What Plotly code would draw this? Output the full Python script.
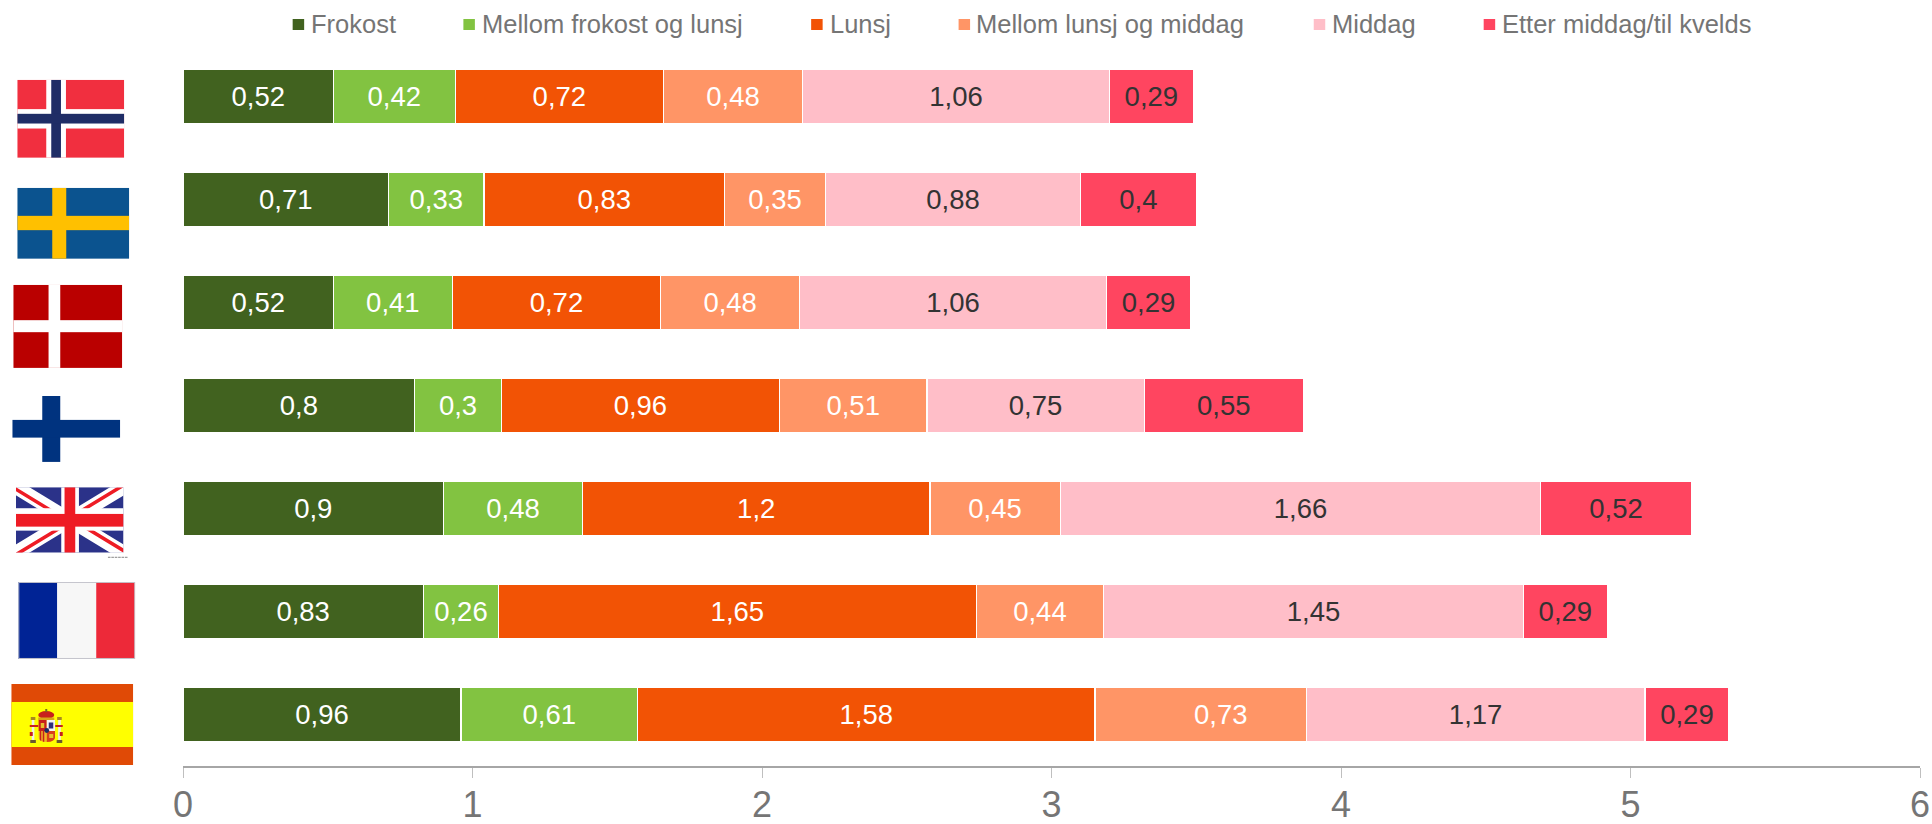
import base64
import plotly.graph_objects as go

# Meal occasions (legend order) and their colours
meals = ["Frokost", "Mellom frokost og lunsj", "Lunsj",
         "Mellom lunsj og middag", "Middag", "Etter middag/til kvelds"]
meal_colors = ["#41621F", "#82C341", "#F25305", "#FF9566", "#FFBEC8", "#FF4560"]
label_colors = ["#FFFFFF", "#FFFFFF", "#FFFFFF", "#FFFFFF", "#333333", "#333333"]

countries = ["Norge", "Sverige", "Danmark", "Finland",
             "Storbritannia", "Frankrike", "Spania"]

frokost = [0.52, 0.71, 0.52, 0.8, 0.9, 0.83, 0.96]
mellom_frokost_lunsj = [0.42, 0.33, 0.41, 0.3, 0.48, 0.26, 0.61]
lunsj = [0.72, 0.83, 0.72, 0.96, 1.2, 1.65, 1.58]
mellom_lunsj_middag = [0.48, 0.35, 0.48, 0.51, 0.45, 0.44, 0.73]
middag = [1.06, 0.88, 1.06, 0.75, 1.66, 1.45, 1.17]
etter_middag = [0.29, 0.4, 0.29, 0.55, 0.52, 0.29, 0.29]
series = [frokost, mellom_frokost_lunsj, lunsj,
          mellom_lunsj_middag, middag, etter_middag]

tick_values = [0, 1, 2, 3, 4, 5, 6]

FONT = "Liberation Sans"
W, H = 1932, 824
LEFT, RIGHT, TOP, BOTTOM = 182.8, 1920.5, 45.2, 766


def px(x):
    """Horizontal page pixel to paper fraction."""
    return (x - LEFT) / (RIGHT - LEFT)


def py(y):
    """Vertical page pixel to paper fraction."""
    return (BOTTOM - y) / (BOTTOM - TOP)


def flag_uri(w, h, body):
    svg = (f'<svg xmlns="http://www.w3.org/2000/svg" width="{w}" height="{h}" '
           f'viewBox="0 0 {w} {h}" preserveAspectRatio="none">{body}</svg>')
    return "data:image/svg+xml;base64," + base64.b64encode(svg.encode()).decode()


def rect(x, y, w, h, fill):
    return f'<rect x="{x}" y="{y}" width="{w}" height="{h}" fill="{fill}"/>'


def nordic_cross(w, h, bg, items):
    return flag_uri(w, h, rect(0, 0, w, h, bg) + "".join(rect(*i) for i in items))


def union_jack(w, h):
    cx, cy = 53.8, 32.7
    fw, fh = cx * 2, cy * 2
    diag = f"M0,0 L{fw},{fh} M{fw},0 L0,{fh}"
    clip = (f"M{cx},{cy} h{cx} v{cy} z v{cy} h-{cx} z "
            f"h-{cx} v-{cy} z v-{cy} h{cx} z")
    body = (
        f'<clipPath id="t"><path d="{clip}"/></clipPath>'
        f'<clipPath id="f"><rect width="{fw}" height="{fh}"/></clipPath>'
        f'<g clip-path="url(#f)">'
        + rect(0, 0, fw, fh, "#2B3289")
        + f'<path d="{diag}" stroke="#FFFFFF" stroke-width="14"/>'
        + f'<path d="{diag}" clip-path="url(#t)" stroke="#EE1C25" stroke-width="7"/>'
        + rect(45.3, 0, 17.7, fh, "#FFFFFF") + rect(0, 21, fw, 22.4, "#FFFFFF")
        + rect(48.6, 0, 10.7, fh, "#EE1C25") + rect(0, 26.7, fw, 12.7, "#EE1C25")
        + "</g>"
        + "".join(rect(92 + i * 3.4, 69.5, 2.6, 1.2, "#9A9A9A") for i in range(6))
    )
    return flag_uri(w, h, body)


def spanish_flag(w, h):
    shield = "M27,36 H44 V52 Q44,58 35.5,58 Q27,58 27,52 Z"
    crest = (
        # crown
        f'<ellipse cx="35" cy="31" rx="8" ry="4" fill="#C8201C"/>'
        + rect(27, 33.5, 16, 2.5, "#D8A418")
        + rect(34, 25, 2, 3, "#7A6A20")
        # pillars
        + rect(20.5, 36, 2.6, 20, "#EFEFE6") + rect(46.9, 36, 2.6, 20, "#EFEFE6")
        + rect(19.5, 33, 4.6, 3, "#A88A20") + rect(45.9, 33, 4.6, 3, "#A88A20")
        + rect(19, 56, 5.6, 3, "#6A5A30") + rect(45.4, 56, 5.6, 3, "#6A5A30")
        # sashes
        + rect(18.5, 41, 8.5, 2, "#C8201C") + rect(44, 41, 7.5, 2, "#C8201C")
        + rect(18.5, 48, 3, 4, "#C8201C") + rect(48.5, 48, 3, 4, "#C8201C")
        # quartered shield
        + f'<clipPath id="s"><path d="{shield}"/></clipPath><g clip-path="url(#s)">'
        + rect(27, 36, 8.5, 11, "#C8201C") + rect(35.5, 36, 8.5, 11, "#F4F4F4")
        + rect(27, 47, 8.5, 11, "#F0B428") + rect(35.5, 47, 8.5, 11, "#D8401C")
        + rect(29.5, 39, 3.5, 5, "#E8C030") + rect(37.5, 38.5, 4.5, 6, "#30307A")
        + rect(28.5, 47, 1.5, 11, "#C8201C") + rect(31.5, 47, 1.5, 11, "#C8201C")
        + rect(38, 50, 4, 4, "#E8C030")
        + "</g>"
        + f'<circle cx="35.5" cy="46.5" r="2.4" fill="#1F2D66"/>'
    )
    body = (rect(0, 0, w, h, "#E04A06") + rect(0, 18, w, 45, "#FFFF00") + crest)
    return flag_uri(w, h, body)


# Flags in row order, each with its page-pixel box (x, y, w, h)
flags = [
    (nordic_cross(107, 78, "#F12F3F", [
        (29, 0, 19.7, 78, "#FFFFFF"), (0, 29.3, 107, 19.4, "#FFFFFF"),
        (34, 0, 9.7, 78, "#1F2D66"), (0, 34, 107, 9.7, "#1F2D66")]),
     17, 80, 107, 78),
    (nordic_cross(112, 71, "#0B538F", [
        (35, 0, 14, 71, "#FFC000"), (0, 28, 112, 14.3, "#FFC000")]),
     17, 188, 112, 71),
    (nordic_cross(109, 83, "#BA0000", [
        (35.3, 0, 11.7, 83, "#FFFFFF"), (0, 35.3, 109, 12, "#FFFFFF")]),
     13, 285, 109, 83),
    (nordic_cross(108, 66, "#FFFFFF", [
        (30, 0, 18, 66, "#00337F"), (0, 24, 108, 17.7, "#00337F")]),
     12, 396, 108, 66),
    (union_jack(113, 72), 15.7, 487.3, 113, 72),
    (flag_uri(117, 77, rect(0, 0, 39, 77, "#002395") + rect(39, 0, 39, 77, "#F7F7F7")
              + rect(78, 0, 39, 77, "#ED2939")
              + '<rect x="0.5" y="0.5" width="116" height="76" fill="none" '
                'stroke="#C4C4CC" stroke-width="1"/>'),
     18, 582, 117, 77),
    (spanish_flag(122, 81), 11, 684, 122, 81),
]

fig = go.Figure()

for i, (meal, values) in enumerate(zip(meals, series)):
    labels = [str(v).replace(".", ",") for v in values]
    if meal == "Mellom lunsj og middag":
        labels[-1] = ""  # Spain's value is set beside the centre, added below
    fig.add_trace(go.Bar(
        name=meal, y=countries, x=values, orientation="h",
        marker=dict(color=meal_colors[i], line=dict(color="#FFFFFF", width=1.2)),
        text=labels, textposition="inside", insidetextanchor="middle",
        textangle=0, constraintext="none",
        textfont=dict(family=FONT, size=27.5, color=label_colors[i]),
        showlegend=False, hoverinfo="x+y+name",
    ))

annotations = []

# Spain's "Mellom lunsj og middag" label sits right of its segment's centre
spain = len(countries) - 1
spain_start = sum(s[spain] for s in series[:3])
annotations.append(dict(
    x=spain_start + mellom_lunsj_middag[spain] / 2, y=countries[spain],
    xref="x", yref="y", xshift=20, showarrow=False,
    text=str(mellom_lunsj_middag[spain]).replace(".", ","),
    font=dict(family=FONT, size=27.5, color="#FFFFFF"),
))

# Legend row across the top
legend_swatch_x = [292.5, 463.3, 811.2, 958.7, 1314, 1484]
legend_text_x = [308.5, 479.5, 828.2, 974.5, 1330.5, 1500.2]
shapes = []
for i, meal in enumerate(meals):
    shapes.append(dict(
        type="rect", xref="paper", yref="paper",
        x0=px(legend_swatch_x[i]), x1=px(legend_swatch_x[i] + 11.5),
        y0=py(30.2), y1=py(19.2),
        fillcolor=meal_colors[i], line=dict(width=0),
    ))
    annotations.append(dict(
        x=px(legend_text_x[i]), y=py(24), xref="paper", yref="paper",
        xanchor="left", yanchor="middle", showarrow=False, text=meal,
        font=dict(family=FONT, size=25.5, color="#757575"),
    ))

images = [dict(source=src, xref="paper", yref="paper", x=px(x), y=py(y),
               sizex=w / (RIGHT - LEFT), sizey=h / (BOTTOM - TOP),
               xanchor="left", yanchor="top", sizing="stretch", layer="above")
          for src, x, y, w, h in flags]

fig.update_layout(
    barmode="stack", bargap=0.47,
    width=W, height=H, autosize=False,
    margin=dict(l=LEFT, r=W - RIGHT, t=TOP, b=H - BOTTOM, pad=0, autoexpand=False),
    plot_bgcolor="#FFFFFF", paper_bgcolor="#FFFFFF",
    separators=", ", showlegend=False,
    font=dict(family=FONT),
    xaxis=dict(
        range=[0, 6], tickmode="array", tickvals=tick_values,
        automargin=False,
        showgrid=False, zeroline=False, showline=True,
        linecolor="#A6A6A6", linewidth=2,
        ticks="outside", ticklen=10, tickwidth=1, tickcolor="#BFBFBF",
        tickfont=dict(family=FONT, size=36, color="#757575"),
        ticklabelstandoff=-4,
    ),
    yaxis=dict(
        categoryorder="array", categoryarray=countries,
        autorange="reversed", showticklabels=False, ticks="", automargin=False,
        showgrid=False, zeroline=False, showline=False,
    ),
    annotations=annotations, shapes=shapes, images=images,
)

fig.write_html("out.html", config=dict(displayModeBar=False))
